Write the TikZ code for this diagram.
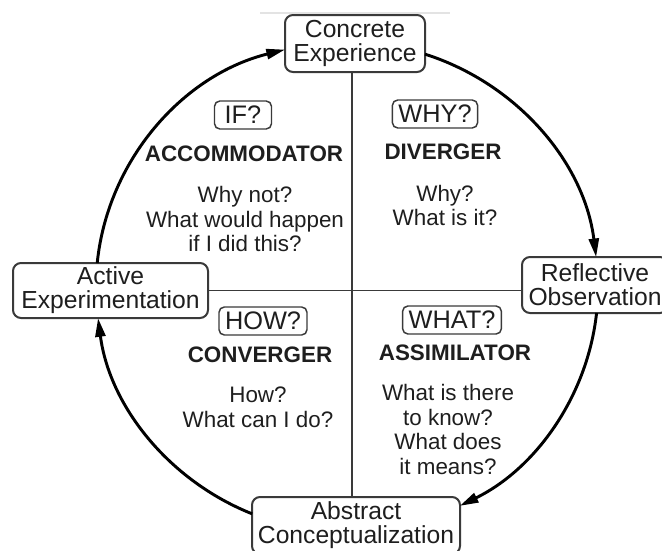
\documentclass[tikz,border=0pt]{standalone}
\usepackage{fontspec}
\setmainfont{Liberation Sans}
\usetikzlibrary{arrows.meta,calc}
\definecolor{ink}{HTML}{1E1E1E}
\definecolor{edge}{HTML}{3A3A3A}
\begin{document}
\begin{tikzpicture}[x=0.75pt,y=-0.75pt,
  stage/.style={draw=edge,line width=1.5pt,rounded corners=6pt,fill=white,align=center,inner sep=0pt,text=ink,font=\fontsize{18.5}{18}\selectfont},
  tag/.style={draw=edge,line width=1.1pt,rounded corners=4pt,fill=white,inner xsep=4.5pt,inner ysep=0pt,minimum height=21pt,text=ink,font=\fontsize{19}{19}\selectfont},
  head/.style={text=ink,font=\fontsize{16.8}{18}\selectfont\bfseries},
  body/.style={text=ink,align=center,font=\fontsize{16.8}{18.4}\selectfont},
  cyc/.style={line width=2.2pt,-{Triangle[length=14pt,width=7.5pt]}},
  axis/.style={draw=edge,line width=1.2pt}]
\useasboundingbox (0,0) rectangle (662,551);
\draw[gray!22,line width=0.8pt] (260,13) -- (450,13);
% stages
\node[stage,minimum width=105pt,minimum height=42.75pt] (CE) at (355,43.5) {Concrete\\Experience};
\node[stage,minimum width=109.5pt,minimum height=42pt] (RO) at (595,285) {Reflective\\Observation};
\node[stage,minimum width=156pt,minimum height=42.75pt] (AC) at (356,525.5) {Abstract\\Conceptualization};
\node[stage,minimum width=146.25pt,minimum height=41.25pt] (AE) at (110.5,290.5) {Active\\Experimentation};
% axes
\coordinate (X) at (352,0);
\draw[axis] (CE.south -| X) -- (AC.north -| X);
\draw[axis] (AE.east) -- (AE.east -| RO.west);
% cycle arcs
\coordinate (O) at (347,287);
\draw[cyc] ($(O)+(-174.4:251 and 245)$) arc[start angle=-174.4,end angle=-104.3,x radius=251,y radius=245];
\draw[cyc] ($(O)+(-71.9:251 and 245)$) arc[start angle=-71.9,end angle=-7.0,x radius=251,y radius=245];
\draw[cyc] ($(O)+(6.1:251 and 245)$) arc[start angle=6.1,end angle=63.3,x radius=251,y radius=245];
\draw[cyc] ($(O)+(112.2:251 and 245)$) arc[start angle=112.2,end angle=172.7,x radius=251,y radius=245];
% quadrant tags
\node[tag,minimum width=42.75pt] (tif) at (243,115) {IF?};
\node[tag] (twhy) at (435,114) {WHY?};
\node[tag] (thow) at (263,321) {HOW?};
\node[tag] (twhat) at (452,320) {WHAT?};
% headings
\node[head] (hacc) at (244,154) {ACCOMMODATOR};
\node[head] (hdiv) at (443,152) {DIVERGER};
\node[head] (hcon) at (260,355) {CONVERGER};
\node[head] (hass) at (455,353) {ASSIMILATOR};
% bodies
\node[body] (bacc) at (245,219) {Why not?\\What would happen\\if I did this?};
\node[body] (bdiv) at (445,205.5) {Why?\\What is it?};
\node[body] (bcon) at (258,407.5) {How?\\What can I do?};
\node[body] (bass) at (448,429.5) {What is there\\to know?\\What does\\it means?};
\end{tikzpicture}
\end{document}
